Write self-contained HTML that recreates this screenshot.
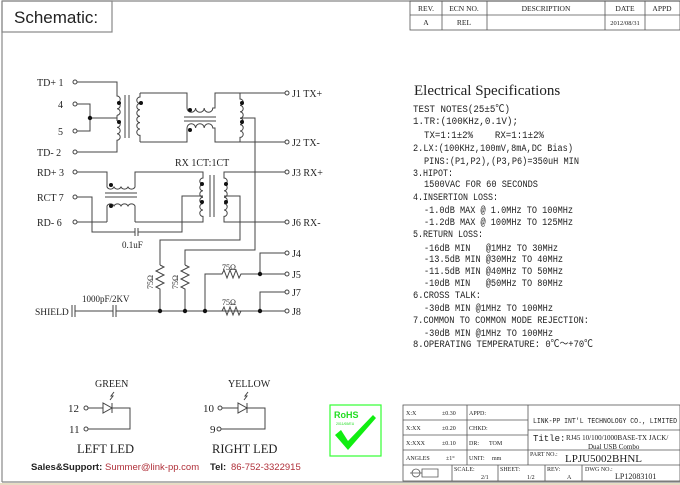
<!DOCTYPE html>
<html><head><meta charset="utf-8"><style>
html,body{margin:0;padding:0;background:#fff;}
svg{display:block;}
text{font-family:"Liberation Serif","Noto Serif CJK SC",serif;fill:#222;white-space:pre;}
.m{font-family:"Liberation Mono","Noto Sans CJK SC",monospace;}
</style></head><body>
<svg width="680" height="485" viewBox="0 0 680 485" xmlns="http://www.w3.org/2000/svg" xml:space="preserve">
<rect x="0" y="0" width="680" height="485" fill="#fff"/>
<rect x="0" y="483" width="680" height="2" fill="#e8dcc4"/>
<g stroke="#888" stroke-width="1.2" fill="none">
<line x1="2" y1="1" x2="680" y2="1"/>
<line x1="2" y1="1" x2="2" y2="482"/>
<line x1="2" y1="482" x2="680" y2="482"/>
<rect x="2" y="1" width="110" height="31"/>
</g>
<text x="14" y="23" style="font-family:'Liberation Sans',sans-serif;font-size:17px" fill="#111">Schematic:</text>

<g stroke="#555" stroke-width="0.8" fill="none">
<rect x="410" y="1" width="270" height="29"/>
<line x1="410" y1="15" x2="680" y2="15"/>
<line x1="442" y1="1" x2="442" y2="30"/><line x1="487" y1="1" x2="487" y2="30"/>
<line x1="605" y1="1" x2="605" y2="30"/><line x1="645" y1="1" x2="645" y2="30"/>
</g>
<g font-size="7.5" text-anchor="middle">
<text x="426" y="11">REV.</text><text x="464" y="11">ECN NO.</text><text x="546" y="11">DESCRIPTION</text><text x="625" y="11">DATE</text><text x="662" y="11">APPD</text>
<text x="426" y="25">A</text><text x="464" y="25">REL</text><text x="625" y="25" font-size="6.5">2012/08/31</text>
</g>

<g stroke="#444" stroke-width="1" fill="none">
<circle cx="75" cy="82" r="2"/><circle cx="75" cy="104" r="2"/><circle cx="75" cy="131" r="2"/><circle cx="75" cy="152" r="2"/>
<circle cx="75" cy="172" r="2"/><circle cx="75" cy="197" r="2"/><circle cx="75" cy="222" r="2"/>
<circle cx="287" cy="93" r="2"/><circle cx="287" cy="142" r="2"/><circle cx="287" cy="172" r="2"/><circle cx="287" cy="222" r="2"/>
<circle cx="287" cy="253" r="2"/><circle cx="287" cy="274" r="2"/><circle cx="287" cy="292" r="2"/><circle cx="287" cy="311" r="2"/>
<path d="M77 82 H117 V96 a3.2 3.2 0 0 1 0 6.4 a3.2 3.2 0 0 1 0 6.4 a3.2 3.2 0 0 1 0 6.4 M117 121 a3.2 3.2 0 0 1 0 6.4 a3.2 3.2 0 0 1 0 6.4 a3.2 3.2 0 0 1 0 6.4 V152 H77"/>
<path d="M117 115.2 V121 M117 118 H90 M77 104 H90 V131 H77"/>
<line x1="125" y1="95" x2="125" y2="138"/><line x1="129" y1="95" x2="129" y2="138"/>
<path d="M140 93 V97 a3.2 3.2 0 0 0 0 6.4 a3.2 3.2 0 0 0 0 6.4 a3.2 3.2 0 0 0 0 6.4 a3.2 3.2 0 0 0 0 6.4 a3.2 3.2 0 0 0 0 6.4 a3.2 3.2 0 0 0 0 6.4 V142"/>
<path d="M140 93 H187 V108 a4.3 4.3 0 0 0 8.6 0 a4.3 4.3 0 0 0 8.6 0 a4.3 4.3 0 0 0 8.6 0 H215 V93 H285"/>
<path d="M140 142 H187 V128 a4.3 4.3 0 0 1 8.6 0 a4.3 4.3 0 0 1 8.6 0 a4.3 4.3 0 0 1 8.6 0 H215 V142 H285"/>
<line x1="184" y1="117" x2="216" y2="117"/><line x1="184" y1="121" x2="216" y2="121"/>
<path d="M240 93 V99 a3.2 3.2 0 0 1 0 6.4 a3.2 3.2 0 0 1 0 6.4 a3.2 3.2 0 0 1 0 6.4 a3.2 3.2 0 0 1 0 6.4 a3.2 3.2 0 0 1 0 6.4 a3.2 3.2 0 0 1 0 6.4 V142"/>
<path d="M240 118 H255 V250 H185 V265"/>
<path d="M77 172 H107 V187 a4 4 0 0 0 7 0 a4 4 0 0 0 7 0 a4 4 0 0 0 7 0 a4 4 0 0 0 7 0 V172 H203 V178 a3.2 3.2 0 0 0 0 6.4 a3.2 3.2 0 0 0 0 6.4 a3.2 3.2 0 0 0 0 6.4 M203 197.2 a3.2 3.2 0 0 0 0 6.4 a3.2 3.2 0 0 0 0 6.4 a3.2 3.2 0 0 0 0 6.4 V222 H135"/>
<path d="M107 222 V206 a4 4 0 0 1 7 0 a4 4 0 0 1 7 0 a4 4 0 0 1 7 0 a4 4 0 0 1 7 0 V222 M107 222 H77"/>
<line x1="105" y1="193" x2="137" y2="193"/><line x1="105" y1="197" x2="137" y2="197"/>
<path d="M77 197 H92 V232 H135 M138 232 H182 V196 H203"/>
<line x1="135" y1="228" x2="135" y2="236"/><line x1="138" y1="228" x2="138" y2="236"/>
<line x1="210" y1="175" x2="210" y2="217"/><line x1="214" y1="175" x2="214" y2="217"/>
<path d="M285 172 H224 V178 a3.2 3.2 0 0 1 0 6.4 a3.2 3.2 0 0 1 0 6.4 a3.2 3.2 0 0 1 0 6.4 a3.2 3.2 0 0 1 0 6.4 a3.2 3.2 0 0 1 0 6.4 a3.2 3.2 0 0 1 0 6.4 V222 H285"/>
<path d="M224 196 H240 V240 H160 V265"/>
<path d="M160 265 l4 2 l-8 4 l8 4 l-8 4 l8 4 l-8 4 l4 2 V311"/>
<path d="M185 265 l4 2 l-8 4 l8 4 l-8 4 l8 4 l-8 4 l4 2 V311"/>
<line x1="72" y1="305" x2="72" y2="317"/><line x1="75" y1="305" x2="75" y2="317"/>
<path d="M75 311 H113 M116 311 H260 H285"/>
<line x1="113" y1="305" x2="113" y2="317"/><line x1="116" y1="305" x2="116" y2="317"/>
<path d="M205 311 V274 H222 l2 -4 l3 8 l3 -8 l3 8 l3 -8 l3 8 l2 -4 H285 M260 274 V253 H285"/>
<path d="M205 311 H222 l2 -4 l3 8 l3 -8 l3 8 l3 -8 l3 8 l2 -4 H260 V292 H285"/>
</g>
<g fill="#111">
<circle cx="90" cy="118" r="2.2"/>
<circle cx="119" cy="103" r="2"/><circle cx="119" cy="122" r="2"/>
<circle cx="141" cy="103" r="2"/>
<circle cx="190" cy="110" r="2"/><circle cx="190" cy="130" r="2"/>
<circle cx="242" cy="103" r="2"/><circle cx="242" cy="122" r="2"/>
<circle cx="111" cy="185" r="2"/><circle cx="111" cy="206" r="2"/>
<circle cx="202" cy="184" r="2"/><circle cx="202" cy="202" r="2"/>
<circle cx="226" cy="184" r="2"/><circle cx="226" cy="202" r="2"/>
<circle cx="160" cy="311" r="2.2"/><circle cx="185" cy="311" r="2.2"/><circle cx="205" cy="311" r="2.2"/>
<circle cx="260" cy="274" r="2.2"/><circle cx="260" cy="311" r="2.2"/>
</g>
<g font-size="10">
<text x="37" y="86">TD+ 1</text><text x="58" y="108">4</text><text x="58" y="135">5</text><text x="37" y="156">TD- 2</text>
<text x="37" y="176">RD+ 3</text><text x="37" y="201">RCT 7</text><text x="37" y="226">RD- 6</text>
<text x="292" y="97">J1 TX+</text><text x="292" y="146">J2 TX-</text><text x="292" y="176">J3 RX+</text><text x="292" y="226">J6 RX-</text>
<text x="292" y="257">J4</text><text x="292" y="278">J5</text><text x="292" y="296">J7</text><text x="292" y="315">J8</text>
<text x="175" y="166">RX 1CT:1CT</text>
<text x="122" y="248" font-size="9">0.1uF</text>
<text x="82" y="302" font-size="9">1000pF/2KV</text>
<text x="35" y="315" font-size="9.5">SHIELD</text>
<text x="222" y="270" font-size="8">75Ω</text><text x="222" y="305" font-size="8">75Ω</text>
<text transform="translate(153,289) rotate(-90)" font-size="8">75Ω</text>
<text transform="translate(178,289) rotate(-90)" font-size="8">75Ω</text>
</g>

<text x="414" y="95" font-size="15">Electrical Specifications</text>
<g font-size="10">
<text class="m" x="413" y="112" textLength="97" lengthAdjust="spacingAndGlyphs">TEST NOTES(25±5℃)</text>
<text class="m" x="413" y="124" textLength="105" lengthAdjust="spacingAndGlyphs">1.TR:(100KHz,0.1V);</text>
<text class="m" x="424" y="138" textLength="120" lengthAdjust="spacingAndGlyphs">TX=1:1±2%    RX=1:1±2%</text>
<text class="m" x="413" y="151" textLength="160" lengthAdjust="spacingAndGlyphs">2.LX:(100KHz,100mV,8mA,DC Bias)</text>
<text class="m" x="424" y="164" textLength="155" lengthAdjust="spacingAndGlyphs">PINS:(P1,P2),(P3,P6)=350uH MIN</text>
<text class="m" x="413" y="176" textLength="40" lengthAdjust="spacingAndGlyphs">3.HIPOT:</text>
<text class="m" x="424" y="187" textLength="114" lengthAdjust="spacingAndGlyphs">1500VAC FOR 60 SECONDS</text>
<text class="m" x="413" y="200" textLength="85" lengthAdjust="spacingAndGlyphs">4.INSERTION LOSS:</text>
<text class="m" x="424" y="213" textLength="149" lengthAdjust="spacingAndGlyphs">-1.0dB MAX @ 1.0MHz TO 100MHz</text>
<text class="m" x="424" y="225" textLength="149" lengthAdjust="spacingAndGlyphs">-1.2dB MAX @ 100MHz TO 125MHz</text>
<text class="m" x="413" y="237" textLength="70" lengthAdjust="spacingAndGlyphs">5.RETURN LOSS:</text>
<text class="m" x="424" y="251" textLength="134" lengthAdjust="spacingAndGlyphs">-16dB MIN   @1MHz TO 30MHz</text>
<text class="m" x="424" y="262" textLength="139" lengthAdjust="spacingAndGlyphs">-13.5dB MIN @30MHz TO 40MHz</text>
<text class="m" x="424" y="274" textLength="139" lengthAdjust="spacingAndGlyphs">-11.5dB MIN @40MHz TO 50MHz</text>
<text class="m" x="424" y="286" textLength="139" lengthAdjust="spacingAndGlyphs">-10dB MIN   @50MHz TO 80MHz</text>
<text class="m" x="413" y="298" textLength="68" lengthAdjust="spacingAndGlyphs">6.CROSS TALK:</text>
<text class="m" x="424" y="311" textLength="129" lengthAdjust="spacingAndGlyphs">-30dB MIN @1MHz TO 100MHz</text>
<text class="m" x="413" y="323" textLength="176" lengthAdjust="spacingAndGlyphs">7.COMMON TO COMMON MODE REJECTION:</text>
<text class="m" x="424" y="336" textLength="129" lengthAdjust="spacingAndGlyphs">-30dB MIN @1MHz TO 100MHz</text>
<text class="m" x="413" y="347" textLength="180" lengthAdjust="spacingAndGlyphs">8.OPERATING TEMPERATURE: 0℃～+70℃</text>
</g>

<g stroke="#444" stroke-width="1" fill="none">
<circle cx="86" cy="408" r="2"/><circle cx="86" cy="429" r="2"/>
<path d="M88 408 H103 M112 408 H130 V429 H88"/>
<path d="M103 403 V413 L112 408 Z"/><line x1="112" y1="403" x2="112" y2="413"/>
<path d="M110 400 l3 -4 l-2 0 l3 -4"/>
<circle cx="220" cy="408" r="2"/><circle cx="219" cy="429" r="2"/>
<path d="M222 408 H238 M247 408 H265 V429 H221"/>
<path d="M238 403 V413 L247 408 Z"/><line x1="247" y1="403" x2="247" y2="413"/>
<path d="M244 400 l3 -4 l-2 0 l3 -4"/>
</g>
<g font-size="10">
<text x="95" y="387">GREEN</text><text x="228" y="387">YELLOW</text>
<text x="68" y="412" font-size="11">12</text><text x="69" y="433" font-size="11">11</text>
<text x="203" y="412" font-size="11">10</text><text x="210" y="433" font-size="11">9</text>
<text x="77" y="453" font-size="12.5">LEFT LED</text><text x="212" y="453" font-size="12.5">RIGHT LED</text>
</g>
<text x="31" y="470" style="font-family:'Liberation Sans',sans-serif;font-size:9.5px;font-weight:bold" fill="#111">Sales&amp;Support:</text>
<text x="105" y="470" style="font-family:'Liberation Sans',sans-serif;font-size:9.5px;fill:#b0303a">Summer@link-pp.com</text>
<text x="210" y="470" style="font-family:'Liberation Sans',sans-serif;font-size:9.5px;font-weight:bold" fill="#111">Tel:</text>
<text x="231" y="470" style="font-family:'Liberation Sans',sans-serif;font-size:9.5px;fill:#b0303a">86-752-3322915</text>

<rect x="330" y="405" width="51" height="51" fill="#fff" stroke="#3f3" stroke-width="1.2"/>
<text x="334" y="418" style="font-family:'Liberation Sans',sans-serif;font-size:9px;font-weight:bold;fill:#2d2">RoHS</text>
<text x="336" y="425" style="font-family:'Liberation Sans',sans-serif;font-size:3.5px;fill:#2d2">2011/65/EU</text>
<path d="M335 435 L341 430 L348 441 L373 415 L376 418 L348 450 Z" fill="#1e1"/>

<g stroke="#555" stroke-width="0.8" fill="none">
<rect x="403" y="405" width="277" height="76"/>
<line x1="403" y1="420" x2="528" y2="420"/><line x1="403" y1="435" x2="528" y2="435"/>
<line x1="403" y1="450" x2="680" y2="450"/><line x1="403" y1="465" x2="680" y2="465"/>
<line x1="528" y1="430" x2="680" y2="430"/>
<line x1="467" y1="405" x2="467" y2="465"/><line x1="528" y1="405" x2="528" y2="465"/>
<line x1="452" y1="465" x2="452" y2="481"/><line x1="498" y1="465" x2="498" y2="481"/>
<line x1="545" y1="465" x2="545" y2="481"/><line x1="582" y1="465" x2="582" y2="481"/>
<circle cx="416" cy="473" r="4"/><path d="M422 469 H438 V477 H422 Z M410 473 H422"/>
</g>
<g font-size="6">
<text x="406" y="415">X:X</text><text x="442" y="415">±0.30</text><text x="469" y="415">APPD:</text>
<text x="406" y="430">X:XX</text><text x="442" y="430">±0.20</text><text x="469" y="430">CHKD:</text>
<text x="406" y="445">X:XXX</text><text x="442" y="445">±0.10</text><text x="469" y="445">DR:</text><text x="489" y="445">TOM</text>
<text x="406" y="460">ANGLES</text><text x="446" y="460">±1°</text><text x="469" y="460">UNIT:</text><text x="492" y="460">mm</text>
<text x="454" y="471">SCALE:</text><text x="481" y="479">2/1</text>
<text x="500" y="471">SHEET:</text><text x="527" y="479">1/2</text>
<text x="547" y="471">REV:</text><text x="567" y="479">A</text>
<text x="585" y="471">DWG NO.:</text><text x="530" y="456">PART NO.:</text>
</g>
<text x="533" y="423" style="font-family:'Liberation Mono',monospace;font-size:7px" textLength="144" lengthAdjust="spacingAndGlyphs">LINK-PP INT'L TECHNOLOGY CO., LIMITED</text>
<text x="533" y="441" class="m" font-size="9">Title:</text>
<text x="566" y="440" font-size="7">RJ45 10/100/1000BASE-TX JACK/</text>
<text x="588" y="449" font-size="7">Dual USB Combo</text>
<text x="565" y="462" font-size="11">LPJU5002BHNL</text>
<text x="615" y="479" font-size="8">LP12083101</text>
</svg>
</body></html>
